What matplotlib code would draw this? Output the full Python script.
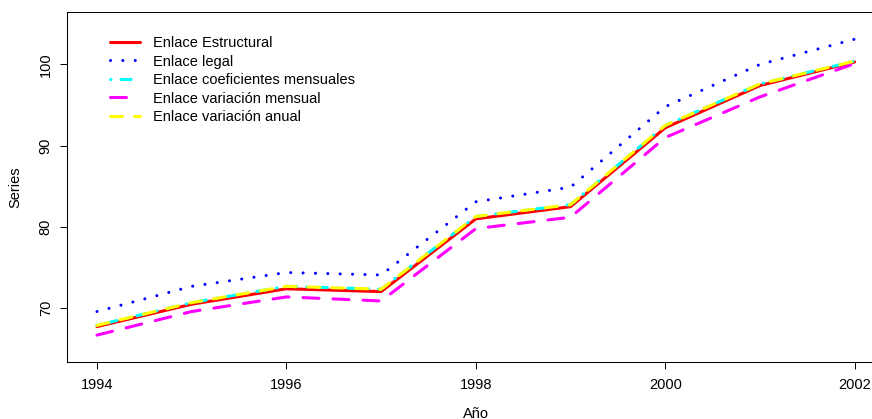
import numpy as np
import matplotlib
matplotlib.use("Agg")
import matplotlib.pyplot as plt

plt.rcParams["font.family"] = ["Liberation Sans", "DejaVu Sans"]
plt.rcParams["lines.scale_dashes"] = False

years = np.arange(1994, 2003)
estructural = [67.75, 70.5, 72.4, 72.05, 81.0, 82.5, 92.2, 97.4, 100.3]
legal = [69.6, 72.7, 74.4, 74.1, 83.1, 84.9, 94.8, 100.0, 103.1]
coef_mensuales = [67.9, 70.7, 72.7, 72.35, 81.3, 82.75, 92.5, 97.6, 100.4]
var_mensual = [66.7, 69.6, 71.4, 70.9, 79.8, 81.2, 91.0, 96.0, 100.1]
var_anual = [67.9, 70.7, 72.7, 72.35, 81.3, 82.75, 92.5, 97.6, 100.4]

labels = [
    "Enlace Estructural",
    "Enlace legal",
    "Enlace coeficientes mensuales",
    "Enlace variación mensual",
    "Enlace variación anual",
]

W, H = 872, 419
fig = plt.figure(figsize=(W / 100, H / 100), dpi=100)
# plot region in pixels: left 66.7, right 885 (beyond the image), top 11.7, bottom 361.7
left, right, top, bottom = 66.7, 885.0, 11.7, 361.7
ax = fig.add_axes([left / W, 1 - bottom / H, (right - left) / W, (bottom - top) / H])

lw = 2.2
ax.plot(years, estructural, color="#ff0000", lw=lw, solid_capstyle="round",
        solid_joinstyle="round", label=labels[0])
ax.plot(years, legal, color="#0000ff", lw=lw, linestyle=(0, (0.01, 8.9)),
        dash_capstyle="round", label=labels[1])
ax.plot(years, coef_mensuales, color="#00ffff", lw=lw, linestyle=(0, (0.4, 7.2, 7.2, 7.2)),
        dash_capstyle="round", label=labels[2])
ax.plot(years, var_mensual, color="#ff00ff", lw=lw, linestyle=(0, (11.5, 10.1)),
        dash_capstyle="round", label=labels[3])
ax.plot(years, var_anual, color="#ffff00", lw=lw, linestyle=(0, (8.6, 8.6)),
        dash_capstyle="round", label=labels[4])

ax.set_xlim(1993.68, 2002.32)
ax.set_ylim(63.43, 106.48)
ax.set_xticks([1994, 1996, 1998, 2000, 2002])
ax.set_yticks([70, 80, 90, 100])
ax.set_yticklabels(["70", "80", "90", "100"], rotation=90, va="center")

fs = 10.5
ax.tick_params(direction="out", length=5, width=0.72, labelsize=fs, pad=5)
ax.tick_params(axis="x", pad=6.5)
for sp in ax.spines.values():
    sp.set_linewidth(0.75)

ax.set_xlabel("Año", fontsize=fs, va="center")
ax.xaxis.set_label_coords(0.5, -0.148)
ax.set_ylabel("Series", fontsize=fs, va="center")
ax.yaxis.set_label_coords(-0.0625, 0.5)

ax.legend(loc="upper left", bbox_to_anchor=(0.0529, 0.9305), frameon=False,
          fontsize=fs, handlelength=2.05, handletextpad=0.87, labelspacing=0.31,
          borderaxespad=0, borderpad=0)

fig.savefig("out.png", dpi=100)
